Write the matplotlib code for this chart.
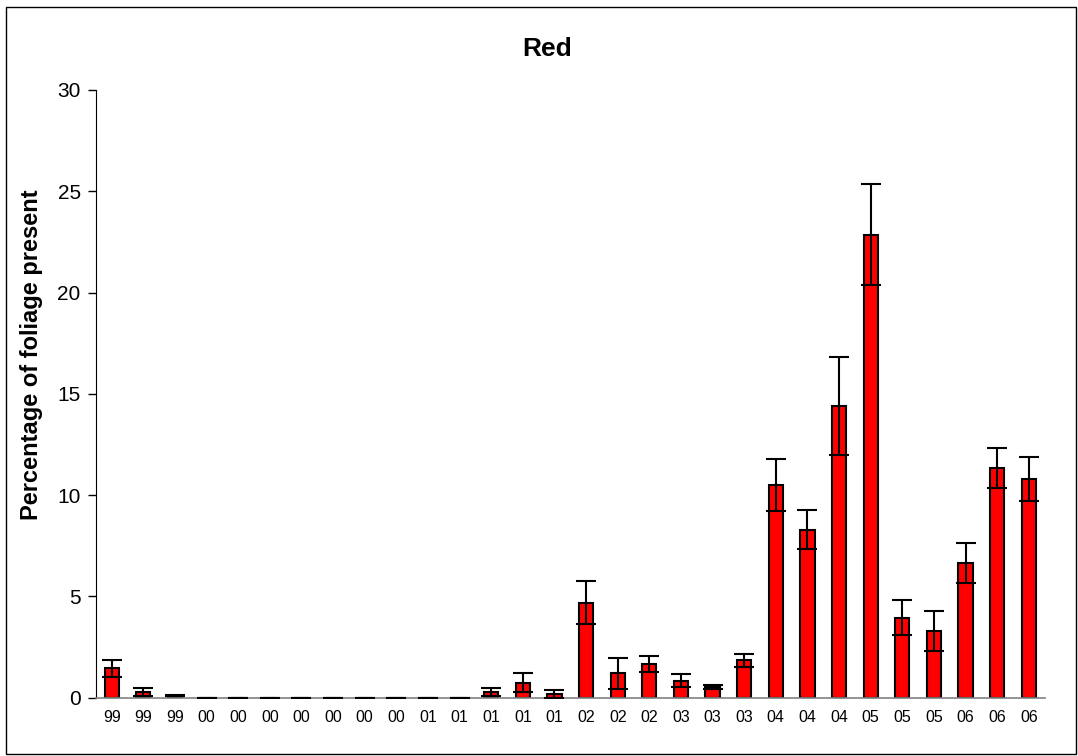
import numpy as np
import matplotlib.pyplot as plt
from matplotlib.patches import Rectangle

plt.rcParams['font.family'] = ['Liberation Sans', 'DejaVu Sans']

# --- Data ---
years = ["99", "99", "99", "00", "00", "00", "00", "00", "00", "00",
         "01", "01", "01", "01", "01", "02", "02", "02", "03", "03",
         "03", "04", "04", "04", "05", "05", "05", "06", "06", "06"]
values = [1.45, 0.3, 0.1, 0.0, 0.0, 0.0, 0.0, 0.0, 0.0, 0.0,
          0.0, 0.0, 0.3, 0.75, 0.2, 4.7, 1.2, 1.65, 0.85, 0.55,
          1.85, 10.5, 8.3, 14.4, 22.85, 3.95, 3.3, 6.65, 11.35, 10.8]
errors = [0.4, 0.2, 0.02, 0.0, 0.0, 0.0, 0.0, 0.0, 0.0, 0.0,
          0.0, 0.0, 0.2, 0.45, 0.2, 1.05, 0.75, 0.4, 0.33, 0.1,
          0.32, 1.3, 0.97, 2.4, 2.5, 0.86, 0.98, 0.97, 1.0, 1.08]

x = np.arange(len(values))

fig = plt.figure(figsize=(10.78, 7.56), dpi=100)
fig.patches.append(Rectangle((0.006, 0.003), 0.992, 0.988, transform=fig.transFigure,
                             fill=False, edgecolor="black", linewidth=1.0))
ax = fig.add_axes([0.089, 0.077, 0.880, 0.804])

ax.bar(x, values, width=0.45, color="#ff0000", edgecolor="black", linewidth=1.5, zorder=2)
ax.errorbar(x, values, yerr=errors, fmt="none", ecolor="black", elinewidth=1.5,
            capsize=7, capthick=1.5, zorder=3)

ax.set_xlim(-0.5, len(values) - 0.5)
ax.set_ylim(0, 30)
ax.set_yticks([0, 5, 10, 15, 20, 25, 30])
ax.tick_params(axis="y", labelsize=15, length=6, direction="out", width=1, pad=5)
ax.set_xticks(x)
ax.set_xticklabels(years, fontsize=11.5)
ax.tick_params(axis="x", length=0, pad=9)

for s in ["top", "right"]:
    ax.spines[s].set_visible(False)
ax.spines["bottom"].set_color("#808080")
ax.spines["bottom"].set_linewidth(1.2)

ax.set_ylabel("Percentage of foliage present", fontsize=17, fontweight="bold")
ax.yaxis.set_label_coords(-0.056, 0.564)
fig.text(0.508, 0.935, "Red", ha="center", va="center", fontsize=19, fontweight="bold")

fig.savefig("out.png", dpi=100)
